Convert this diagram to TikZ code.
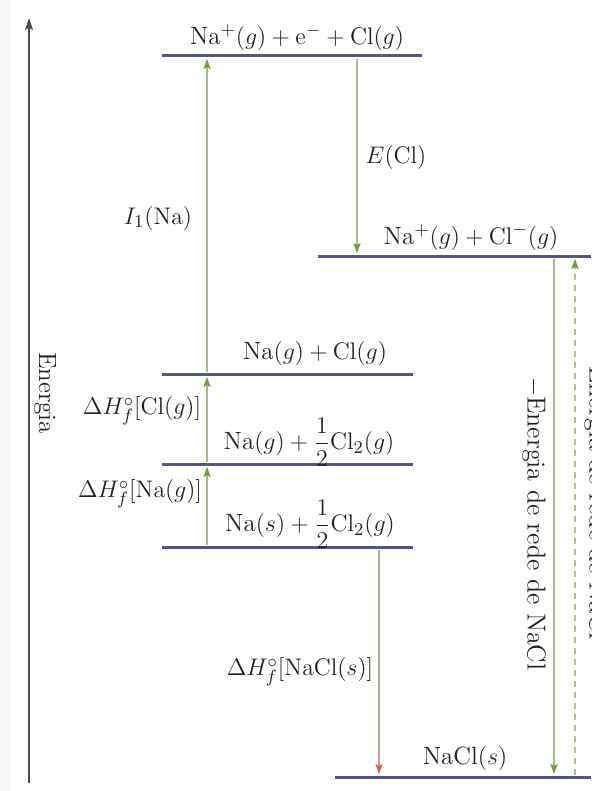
\documentclass[tikz,border=0pt]{standalone}
\usetikzlibrary{arrows.meta}
\definecolor{lvl}{HTML}{55558A}
\definecolor{gshaft}{HTML}{A9B98F}
\definecolor{ghead}{HTML}{6E9E3C}
\definecolor{rshaft}{HTML}{C8A098}
\definecolor{rhead}{HTML}{E0603A}
\definecolor{txt}{HTML}{222222}
\tikzset{
  level/.style={draw=lvl, line width=1.5pt},
  garrow/.style={draw=gshaft, line width=0.6pt, -{Stealth[length=5pt,width=3.6pt,inset=1pt,color=ghead]}},
  rarrow/.style={draw=rshaft, line width=0.6pt, -{Stealth[length=5pt,width=3.6pt,inset=1pt,color=rhead]}},
  dasharrow/.style={draw=ghead!60, line width=0.6pt, dash pattern=on 3pt off 2.5pt, -{Stealth[length=5pt,width=3.6pt,inset=1pt,color=ghead]}},
  lbl/.style={text=txt, inner sep=0pt},
}
\newcommand{\halfdisp}{{\displaystyle\frac{1}{2}}}
\begin{document}
\begin{tikzpicture}[x=0.5pt,y=-0.5pt, font=\fontsize{12.5}{14}\selectfont]
\clip (0,0) rectangle (591,791);
\fill[white] (0,0) rectangle (591,791);
\fill[yellow!4!gray!6] (0,0) rectangle (11,791);
% axis
\coordinate (ax0) at (29,783);
\coordinate (ax1) at (29,18);
\draw[draw=txt!80, line width=0.8pt, -{Stealth[length=6pt,width=4pt,inset=1.2pt]}] (ax0) -- (ax1);
\node[lbl, rotate=-90] (energia) at (45,393) {Energia};
% levels
\coordinate (L1a) at (162,56);  \coordinate (L1b) at (422,56);
\coordinate (L2a) at (318,256); \coordinate (L2b) at (591,256);
\coordinate (L3a) at (162,374); \coordinate (L3b) at (413,374);
\coordinate (L4a) at (162,464); \coordinate (L4b) at (413,464);
\coordinate (L5a) at (162,547); \coordinate (L5b) at (413,547);
\coordinate (L6a) at (335,777); \coordinate (L6b) at (591,777);
\draw[level] (L1a) -- (L1b);
\draw[level] (L2a) -- (L2b);
\draw[level] (L3a) -- (L3b);
\draw[level] (L4a) -- (L4b);
\draw[level] (L5a) -- (L5b);
\draw[level] (L6a) -- (L6b);
% level texts
\node[lbl] (t1) at (297,38) {Na$^{+}(g) + \mathrm{e}^{-} + \mathrm{Cl}(g)$};
\node[lbl] (t2) at (471,237) {Na$^{+}(g) + \mathrm{Cl}^{-}(g)$};
\node[lbl] (t3) at (315,353) {Na$(g) + \mathrm{Cl}(g)$};
\node[lbl] (t4) at (309,442) {Na$(g) + \halfdisp\mathrm{Cl}_2(g)$};
\node[lbl] (t5) at (310,524) {Na$(s) + \halfdisp\mathrm{Cl}_2(g)$};
\node[lbl] (t6) at (465,758) {NaCl$(s)$};
% arrow endpoints
\coordinate (a1s) at (207,372); \coordinate (a1e) at (207,59);
\coordinate (a2s) at (357,59);  \coordinate (a2e) at (357,253);
\coordinate (a3s) at (207,462); \coordinate (a3e) at (207,377);
\coordinate (a4s) at (207,545); \coordinate (a4e) at (207,467);
\coordinate (a5s) at (379,550); \coordinate (a5e) at (379,774);
\coordinate (a6s) at (554,259); \coordinate (a6e) at (554,774);
\coordinate (a7s) at (575,775); \coordinate (a7e) at (575,259);
\draw[garrow] (a1s) -- (a1e);
\draw[garrow] (a2s) -- (a2e);
\draw[garrow] (a3s) -- (a3e);
\draw[garrow] (a4s) -- (a4e);
\draw[rarrow] (a5s) -- (a5e);
\draw[garrow] (a6s) -- (a6e);
\draw[dasharrow] (a7s) -- (a7e);
% arrow labels
\node[lbl] (i1) at (158,218) {$I_1(\mathrm{Na})$};
\node[lbl] (ecl) at (396,158) {$E(\mathrm{Cl})$};
\node[lbl] (hcl) at (142,411) {$\Delta H_f^{\circ}[\mathrm{Cl}(g)]$};
\node[lbl] (hna) at (140,494) {$\Delta H_f^{\circ}[\mathrm{Na}(g)]$};
\node[lbl] (hnacl) at (300,672) {$\Delta H_f^{\circ}[\mathrm{NaCl}(s)]$};
\node[lbl, rotate=-90, font=\fontsize{13}{15}\selectfont] (lat) at (534,524) {$-$Energia de rede de NaCl};
\node[lbl, rotate=-90, font=\fontsize{13}{15}\selectfont] (lat2) at (596,503) {Energia de rede de NaCl};
\end{tikzpicture}
\end{document}
